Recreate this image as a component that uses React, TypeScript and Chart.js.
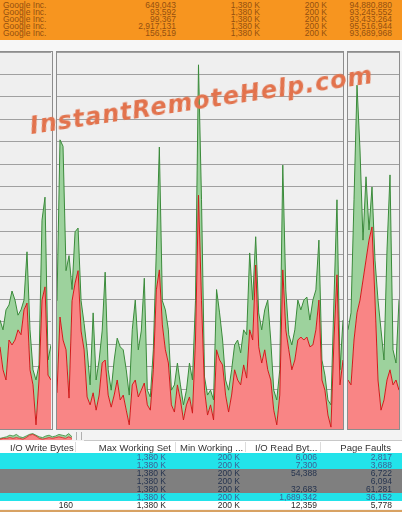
import React, { useEffect, useRef } from "react";
import { Chart, registerables } from "chart.js";
Chart.register(...registerables);

// ---- CPU history data (percent) ----
const panel1Total = [28.9, 26.3, 31.6, 32.9, 36.6, 34.2, 30.2, 31.6, 34.2, 47, 26.3, 15.7, 13, 17, 55.4, 61.5, 18.3, 22.3];
const panel1Kernel = [21.8, 15.7, 13, 23.6, 22.3, 23.6, 26.3, 25, 31.6, 33.4, 15.7, 11.7, 1.1, 13, 34.2, 37.7, 14.3, 13];

const panel2Total = [
  34, 76.7, 75, 42, 46, 37, 52.3, 53.3, 34, 28, 21, 11.7, 30.8, 13, 18.3, 26, 41.6, 15.7, 10.3, 18.3,
  24.1, 21.8, 21, 15.7, 9, 26.3, 34.2, 21, 26, 40, 10.3, 8.5, 21, 47.5, 74.8, 34, 31.6, 26.3, 10.3, 11.7,
  17.5, 11.7, 6.4, 10.3, 17.5, 13, 34, 96.6, 60.8, 13.8, 9, 10.3, 7.7, 37, 30.8, 23.6, 13, 10.3, 15.7, 22.3,
  23.6, 20.2, 26.3, 25, 46.7, 34.2, 51, 30.8, 26.3, 31.6, 34.2, 23.6, 10.3, 7.7, 15.7, 70, 36.9, 25, 22.3, 26.3,
  34.2, 31.6, 34.2, 35, 28.9, 34.2, 36.9, 50.1, 18.3, 14.3, 7.7, 6.4, 34.2, 60.8, 15.7, 28.9,
];
const panel2Kernel = [
  9.6, 29.7, 23.6, 21, 8.2, 34, 38.7, 42, 26, 21, 8.5, 6.4, 9.6, 5, 9, 17.5, 18.3, 9, 5.8, 9,
  13, 7.7, 9, 5, 1.1, 11.7, 13, 8.5, 10.3, 12.2, 6.4, 5, 15.7, 36.9, 42.2, 27.6, 21, 17.5, 6.4, 4.5,
  11.7, 7.7, 2.4, 6.4, 8.5, 4.2, 23.6, 62, 34, 10.3, 3.7, 6.4, 2.4, 21, 18.3, 17, 9, 4.5, 9, 15.7,
  13, 11.7, 17, 13.5, 26.3, 23.6, 43.5, 21.8, 17.5, 21, 15.7, 13, 5, 1.1, 9, 42.2, 26.3, 21, 15.7, 18.3,
  23.6, 24.4, 23.6, 24.4, 21.8, 22.3, 26.3, 34.2, 13, 10.3, 3.7, 0.5, 23.6, 40.9, 11.7, 18.3,
];

const panel3Total = [26.3, 30.8, 60.8, 91.2, 74, 50.1, 66.9, 52.8, 64.2, 44.8, 34.2, 26.3, 18.3, 47.5, 67.4, 21, 17.5, 34.2];
const panel3Kernel = [13, 11.7, 23.6, 30.8, 34.2, 39.5, 44.8, 50.1, 53.6, 34.2, 13, 5, 7.7, 13, 15.7, 11.7, 13, 10.3];

const miniTotal = [2, 3, 4, 6, 5, 7, 4, 3, 5, 7, 8, 6, 4, 3, 5, 6, 4, 5, 7, 6, 5, 8, 4];
const miniKernel = [1, 2, 2, 3, 2, 3, 2, 1, 3, 6, 7, 5, 2, 1, 2, 3, 2, 3, 4, 3, 2, 4, 2];

// ---- table texts ----
const topCompany = ["Google Inc.", "Google Inc.", "Google Inc.", "Google Inc.", "Google Inc."];
const topCol1 = ["649,043", "93,592", "99,367", "2,917,131", "156,519"];
const topCol2 = ["1,380 K", "1,380 K", "1,380 K", "1,380 K", "1,380 K"];
const topCol3 = ["200 K", "200 K", "200 K", "200 K", "200 K"];
const topCol4 = ["94,880,880", "93,245,552", "93,433,264", "95,516,944", "93,689,968"];

const headers = ["I/O Write Bytes", "Max Working Set", "Min Working ...", "I/O Read Byt...", "Page Faults"];
const ioWrite = ["", "", "", "", "", "", "160"];
const maxWS = ["1,380 K", "1,380 K", "1,380 K", "1,380 K", "1,380 K", "1,380 K", "1,380 K"];
const minWS = ["200 K", "200 K", "200 K", "200 K", "200 K", "200 K", "200 K"];
const ioRead = ["6,006", "7,300", "54,388", "", "32,683", "1,689,342", "12,359"];
const pageFaults = ["2,817", "3,688", "6,722", "6,094", "61,281", "36,152", "5,778"];
const rowKinds = ["sel", "sel", "grey", "grey", "grey", "sel", "plain"];

const GRID_STEP = (100 * 22.5) / 377;

function CpuPanel(props: { total: number[]; kernel: number[]; left: number; top: number; width: number; height: number; max?: number; grid?: boolean; lw?: number }) {
  const ref = useRef<HTMLCanvasElement>(null);
  useEffect(() => {
    const max = props.max ?? 100;
    const chart = new Chart(ref.current!, {
      type: "line",
      data: {
        labels: props.total.map((_, i) => String(i)),
        datasets: [
          { data: props.kernel, borderColor: "#d11a1a", backgroundColor: "#f98585", fill: "origin", borderWidth: props.lw ?? 1, pointRadius: 0, tension: 0 },
          { data: props.total, borderColor: "#3a8a3a", backgroundColor: "#9dd29d", fill: "-1", borderWidth: props.lw ?? 1, pointRadius: 0, tension: 0 },
        ],
      },
      options: {
        animation: false,
        responsive: false,
        maintainAspectRatio: false,
        events: [],
        layout: { padding: 0 },
        plugins: { legend: { display: false }, tooltip: { enabled: false } },
        scales: {
          x: { display: false, offset: false },
          y: {
            min: 0,
            max,
            display: props.grid !== false,
            z: 1,
            afterBuildTicks: (s: any) => {
              const t: any[] = [];
              for (let v = 100; v > 0; v -= GRID_STEP) t.push({ value: v });
              s.ticks = t;
            },
            afterFit: (s: any) => { s.width = 0; },
            ticks: { display: false },
            grid: { color: "rgba(95,95,95,0.55)", lineWidth: 1, drawTicks: false },
            border: { display: false },
          },
        },
      },
    });
    return () => chart.destroy();
  }, []);
  return (
    <canvas
      ref={ref}
      width={props.width}
      height={props.height}
      style={{ position: "absolute", left: props.left, top: props.top, width: props.width, height: props.height }}
    />
  );
}

const abs = (s: React.CSSProperties): React.CSSProperties => ({ position: "absolute", ...s });

export default function App() {
  const font = "'Liberation Sans', Arial, sans-serif";
  const topRowTop = (i: number) => 2 + i * 7;
  const rowTop = (i: number) => 453 + i * 8;
  const rowBg: Record<string, string> = { sel: "#22e3ea", grey: "#7f7f7f", plain: "#ffffff" };
  const rowFg: Record<string, string> = { sel: "#3b6296", grey: "#26344f", plain: "#2a2a2a" };
  const topText: React.CSSProperties = { fontSize: 8.5, lineHeight: "7px", color: "#94500f" };
  return (
    <div style={abs({ left: 0, top: 0, width: 402, height: 512, overflow: "hidden", background: "#f3f3f3", position: "fixed", fontFamily: font })}>
      {/* top orange table */}
      <div style={abs({ left: 0, top: 0, width: 402, height: 40, background: "#f7951f", overflow: "hidden" })}>
        {topCompany.map((c, i) => (
          <React.Fragment key={i}>
            <div style={abs({ left: 3, top: topRowTop(i), ...topText })}>{c}</div>
            <div style={abs({ right: 402 - 176, top: topRowTop(i), ...topText })}>{topCol1[i]}</div>
            <div style={abs({ right: 402 - 260, top: topRowTop(i), ...topText })}>{topCol2[i]}</div>
            <div style={abs({ right: 402 - 327, top: topRowTop(i), ...topText })}>{topCol3[i]}</div>
            <div style={abs({ right: 402 - 392, top: topRowTop(i), ...topText })}>{topCol4[i]}</div>
          </React.Fragment>
        ))}
      </div>
      <div style={abs({ left: 0, top: 40, width: 402, height: 11, background: "#f7f7f7" })} />

      {/* panel frames */}
      <div style={abs({ left: -2, top: 51, width: 53, height: 377, border: "1px solid #8d8d8d", background: "#efefef" })} />
      <div style={abs({ left: 56, top: 51, width: 286, height: 377, border: "1px solid #8d8d8d", background: "#efefef" })} />
      <div style={abs({ left: 347, top: 51, width: 51, height: 377, border: "1px solid #8d8d8d", background: "#efefef" })} />

      <CpuPanel total={panel1Total} kernel={panel1Kernel} left={0} top={52} width={51} height={377} />
      <CpuPanel total={panel2Total} kernel={panel2Kernel} left={57} top={52} width={286} height={377} />
      <CpuPanel total={panel3Total} kernel={panel3Kernel} left={348} top={52} width={51} height={377} />

      {/* watermark */}
      <div
        style={abs({
          left: 32,
          top: 112,
          fontSize: 24,
          fontWeight: "bold",
          fontStyle: "italic",
          fontFamily: "'DejaVu Sans', sans-serif",
          color: "#e2734d",
          letterSpacing: 1,
          transform: "rotate(-8.5deg)",
          transformOrigin: "0 100%",
          whiteSpace: "nowrap",
          lineHeight: "28px",
        })}
      >
        InstantRemoteHelp.com
      </div>

      {/* mini strip */}
      <div style={abs({ left: 0, top: 430, width: 402, height: 11, background: "#f3f3f3" })} />
      <CpuPanel total={miniTotal} kernel={miniKernel} left={0} top={432} width={72} height={8} max={10} grid={false} lw={0.8} />
      <div style={abs({ left: 76, top: 432, width: 1, height: 8, background: "#b0b0b0" })} />
      <div style={abs({ left: 81, top: 432, width: 1, height: 8, background: "#b0b0b0" })} />
      <div style={abs({ left: 84, top: 440, width: 318, height: 1, background: "#c8c8c8" })} />

      {/* header row */}
      <div style={abs({ left: 0, top: 441, width: 402, height: 12, background: "#ffffff" })} />
      <div style={abs({ left: 10, top: 442, fontSize: 9.5, lineHeight: "11px", color: "#333" })}>{headers[0]}</div>
      <div style={abs({ right: 402 - 171, top: 442, fontSize: 9.5, lineHeight: "11px", color: "#333" })}>{headers[1]}</div>
      <div style={abs({ left: 180, top: 442, fontSize: 9.5, lineHeight: "11px", color: "#333" })}>{headers[2]}</div>
      <div style={abs({ left: 255, top: 442, fontSize: 9.5, lineHeight: "11px", color: "#333" })}>{headers[3]}</div>
      <div style={abs({ right: 402 - 391, top: 442, fontSize: 9.5, lineHeight: "11px", color: "#333" })}>{headers[4]}</div>
      {[75, 175, 245, 320].map((x) => (
        <div key={x} style={abs({ left: x, top: 442, width: 1, height: 10, background: "#dcdcdc" })} />
      ))}

      {/* data rows */}
      {rowKinds.map((k, i) => {
        const t = rowTop(i);
        const st = (right: number): React.CSSProperties => abs({ right: 402 - right, top: t, fontSize: 8.5, lineHeight: "8px", color: rowFg[k] });
        return (
          <React.Fragment key={i}>
            <div style={abs({ left: 0, top: t, width: 402, height: 8, background: rowBg[k] })} />
            <div style={st(73)}>{ioWrite[i]}</div>
            <div style={st(166)}>{maxWS[i]}</div>
            <div style={st(240)}>{minWS[i]}</div>
            <div style={st(317)}>{ioRead[i]}</div>
            <div style={st(392)}>{pageFaults[i]}</div>
          </React.Fragment>
        );
      })}
      <div style={abs({ left: 0, top: 510, width: 402, height: 2, background: "#d8a263" })} />
    </div>
  );
}
